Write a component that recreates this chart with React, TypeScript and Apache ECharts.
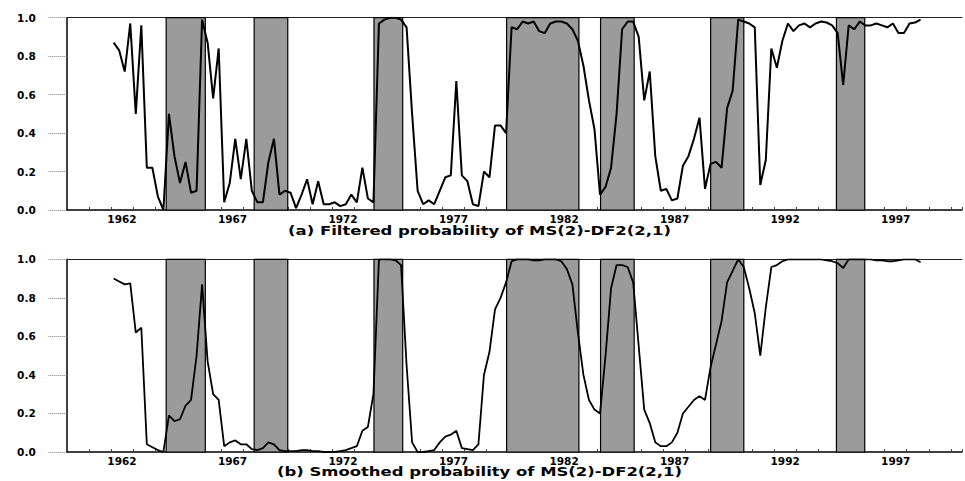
import React, { useEffect, useRef } from "react";
import * as echarts from "echarts";

// Quarterly observations, first one is 1962Q1
const START_YEAR = 1962;

const filteredProb = [
  0.87, 0.83, 0.72, 0.97, 0.5, 0.96, 0.22, 0.22, 0.07, 0.0,
  0.5, 0.28, 0.14, 0.25, 0.09, 0.1, 0.99, 0.87, 0.58, 0.84,
  0.04, 0.14, 0.37, 0.16, 0.37, 0.1, 0.04, 0.04, 0.25, 0.37,
  0.08, 0.1, 0.09, 0.01, 0.08, 0.16, 0.03, 0.15, 0.03, 0.03,
  0.04, 0.02, 0.03, 0.08, 0.04, 0.22, 0.06, 0.04, 0.97, 0.99,
  1.0, 1.0, 0.99, 0.95, 0.5, 0.1, 0.03, 0.05, 0.03, 0.1,
  0.17, 0.18, 0.67, 0.18, 0.15, 0.03, 0.02, 0.2, 0.17, 0.44,
  0.44, 0.4, 0.95, 0.94, 0.98, 0.97, 0.98, 0.93, 0.92, 0.97,
  0.98, 0.98, 0.97, 0.94, 0.88, 0.75, 0.57, 0.42, 0.08, 0.12,
  0.22, 0.5, 0.94, 0.98, 0.98, 0.9, 0.57, 0.72, 0.28, 0.1,
  0.11, 0.05, 0.06, 0.23, 0.28, 0.37, 0.48, 0.11, 0.24, 0.25,
  0.22, 0.53, 0.62, 0.99, 0.98, 0.97, 0.95, 0.13, 0.26, 0.84,
  0.74, 0.88, 0.97, 0.93, 0.96, 0.97, 0.95, 0.97, 0.98, 0.975,
  0.96, 0.92, 0.65, 0.96, 0.94, 0.98, 0.96, 0.96, 0.97, 0.96,
  0.95, 0.97, 0.92, 0.92, 0.97, 0.975, 0.99,
];

const smoothedProb = [
  0.9, 0.885, 0.87, 0.875, 0.62, 0.645, 0.04, 0.025, 0.01, 0.0,
  0.19, 0.16, 0.17, 0.24, 0.27, 0.5, 0.87, 0.47, 0.3, 0.27,
  0.03, 0.05, 0.06, 0.04, 0.04, 0.015, 0.01, 0.02, 0.05, 0.04,
  0.01, 0.005, 0.005, 0.005, 0.01, 0.01, 0.005, 0.005, 0.0, 0.0,
  0.0, 0.005, 0.01, 0.02, 0.03, 0.11, 0.13, 0.3, 1.0, 1.0,
  1.0, 0.995, 0.97, 0.45, 0.05, 0.0, 0.0, 0.005, 0.01, 0.05,
  0.08, 0.09, 0.11, 0.02, 0.015, 0.01, 0.04, 0.4, 0.52, 0.74,
  0.8, 0.88, 0.99, 1.0, 1.0, 1.0, 0.995, 0.995, 1.0, 1.0,
  1.0, 0.99, 0.95, 0.87, 0.62, 0.4, 0.27, 0.22, 0.2, 0.5,
  0.85, 0.97, 0.97, 0.96, 0.88, 0.55, 0.22, 0.15, 0.05, 0.03,
  0.03, 0.05, 0.1, 0.2, 0.235, 0.27, 0.29, 0.27, 0.44, 0.56,
  0.68, 0.88, 0.94, 1.0, 0.96, 0.85, 0.72, 0.5, 0.75, 0.96,
  0.97, 0.99, 1.0, 1.0, 1.0, 1.0, 1.0, 1.0, 1.0, 0.995,
  0.99, 0.98, 0.955, 1.0, 1.0, 1.0, 1.0, 1.0, 0.995, 0.995,
  0.99, 0.99, 0.995, 1.0, 1.0, 1.0, 0.985,
];

// Shaded contraction periods (start, end) in decimal years
const recessionStart = [1964.5, 1968.48, 1973.9, 1979.9, 1984.15, 1989.13, 1994.82];
const recessionEnd = [1966.27, 1970.0, 1975.2, 1983.17, 1985.67, 1990.63, 1996.1];

const yearLabels = ["1962", "1967", "1972", "1977", "1982", "1987", "1992", "1997"];
const yTickLabels = ["0.0", "0.2", "0.4", "0.6", "0.8", "1.0"];

const panelTitles = [
  "(a) Filtered probability of MS(2)-DF2(2,1)",
  "(b) Smoothed probability of MS(2)-DF2(2,1)",
];

const FONT = "DejaVu Sans";

function toPoints(values: number[]) {
  return values.map((v, k) => [START_YEAR + (k + 0.5) / 4, v]);
}

export default function App() {
  const ref = useRef<HTMLDivElement>(null);

  useEffect(() => {
    if (!ref.current) return;
    const chart = echarts.init(ref.current, null, { renderer: "svg" });

    const grids = [
      { left: 66.7, top: 17.7, height: 192.3, right: 0 },
      { left: 66.7, top: 259.3, height: 192.7, right: 0 },
    ];

    const xAxes: any[] = [];
    const yAxes: any[] = [];
    const series: any[] = [];
    const datasets = [filteredProb, smoothedProb];

    grids.forEach((_, g) => {
      // tick axis (bottom line with yearly ticks)
      xAxes.push({
        gridIndex: g,
        type: "value",
        position: "bottom",
        min: 1960,
        max: 2000.5,
        interval: 1,
        axisLine: { show: true, onZero: false, lineStyle: { color: "#000", width: 1.5 } },
        axisTick: { show: true, inside: true, length: 3, lineStyle: { color: "#444", width: 1 } },
        axisLabel: { show: false },
        splitLine: { show: false },
      });
      // label axis (labels centred in the year)
      xAxes.push({
        gridIndex: g,
        type: "value",
        position: "bottom",
        min: 1960,
        max: 2000.5,
        interval: 2.5,
        axisLine: { show: false, onZero: false },
        axisTick: { show: false },
        axisLabel: {
          show: true,
          margin: 3,
          fontFamily: FONT,
          fontWeight: "bold",
          fontSize: 10.5,
          color: "#000",
          formatter: (v: number) => {
            const y = v - 0.5;
            const s = String(Math.round(y));
            return Math.abs(y - Math.round(y)) < 1e-6 && yearLabels.includes(s) ? s : "";
          },
        },
        splitLine: { show: false },
      });
      // top border
      xAxes.push({
        gridIndex: g,
        type: "value",
        position: "top",
        min: 1960,
        max: 2000.5,
        axisLine: { show: true, onZero: false, lineStyle: { color: "#222", width: 1 } },
        axisTick: { show: false },
        axisLabel: { show: false },
        splitLine: { show: false },
      });
      yAxes.push({
        gridIndex: g,
        type: "value",
        min: 0,
        max: 1,
        interval: 0.2,
        axisLine: { show: true, onZero: false, lineStyle: { color: "#000", width: 1.5 } },
        axisTick: { show: true, length: 18.5, lineStyle: { color: "#777", width: 1, type: "dotted" } },
        axisLabel: {
          margin: 31,
          fontFamily: FONT,
          fontWeight: "bold",
          fontSize: 10.5,
          color: "#000",
          formatter: (v: number) => yTickLabels[Math.round(v * 5)] ?? "",
        },
        splitLine: { show: false },
      });
      series.push({
        type: "line",
        xAxisIndex: g * 3,
        yAxisIndex: g,
        data: toPoints(datasets[g]),
        showSymbol: false,
        symbol: "none",
        lineStyle: { color: "#000", width: g === 0 ? 2 : 1.8 },
        z: 3,
        markArea: {
          silent: true,
          z: 1,
          itemStyle: { color: "#9b9b9b", borderColor: "#000", borderWidth: 1.2 },
          data: recessionStart.map((s, i) => [{ xAxis: s }, { xAxis: recessionEnd[i] }]),
        },
      });
    });

    const titleY = [230.5, 471.5];

    chart.setOption({
      animation: false,
      backgroundColor: "#fff",
      grid: grids,
      xAxis: xAxes,
      yAxis: yAxes,
      series,
      graphic: panelTitles.map((t, i) => ({
        type: "text",
        x: 479.5,
        y: titleY[i],
        scaleX: 1.37,
        style: {
          text: t,
          fontFamily: FONT,
          fontWeight: "bold",
          fontSize: 12,
          fill: "#000",
          textAlign: "center",
          textVerticalAlign: "middle",
        },
      })),
    });

    return () => chart.dispose();
  }, []);

  return (
    <div
      ref={ref}
      style={{ position: "fixed", left: 0, top: 0, width: 965, height: 481, background: "#fff" }}
    />
  );
}
